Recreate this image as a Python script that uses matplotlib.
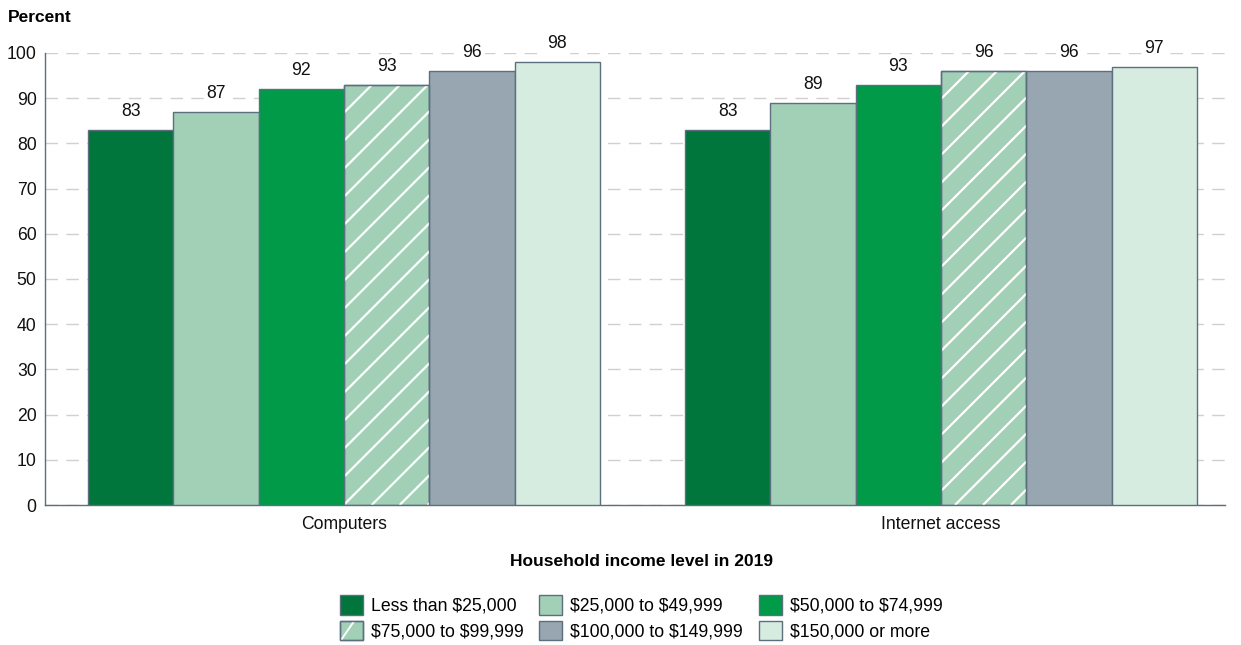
import numpy as np
import matplotlib
matplotlib.use("Agg")
import matplotlib.pyplot as plt
from matplotlib.patches import Patch, Rectangle
from matplotlib.legend_handler import HandlerPatch

plt.rcParams["font.family"] = ["Liberation Sans", "DejaVu Sans"]

# ---------------------------------------------------------------------------
# Data
# ---------------------------------------------------------------------------
categories = ["Computers", "Internet access"]
income_levels = [
    "Less than \\$25,000",
    "\\$25,000 to \\$49,999",
    "\\$50,000 to \\$74,999",
    "\\$75,000 to \\$99,999",
    "\\$100,000 to \\$149,999",
    "\\$150,000 or more",
]
computers = [83, 87, 92, 93, 96, 98]
internet = [83, 89, 93, 96, 96, 97]

colors = ["#00753c", "#a1d0b7", "#009a48", "#a1d0b7", "#97a6b0", "#d6ece0"]
hatched = [False, False, False, True, False, False]
EDGE = "#5b6f7e"
GRID = "#d0d0d0"
FS = 12.7

values = np.array([computers, internet])  # (category, income level)

fig = plt.figure(figsize=(12.41, 6.45), dpi=100)
ax = fig.add_axes([45 / 1241, 1 - 505 / 645, 1180 / 1241, 452 / 645])

n = len(income_levels)
width = 0.143
x = np.arange(len(categories))
ax.set_xlim(-0.501, 1.476)
ax.set_ylim(0, 100)

# pixel scale factors, used to keep hatch lines at 45 degrees
fig.canvas.draw()
bbox = ax.get_window_extent()
px_x = bbox.width / (1.476 + 0.501)
px_y = bbox.height / 100.0


def add_hatch(rect, spacing_px=28, lw=1.6):
    x0, y0 = rect.get_x(), rect.get_y()
    w, h = rect.get_width(), rect.get_height()
    w_px, h_px = w * px_x, h * px_y
    for s in np.arange(-h_px, w_px + spacing_px, spacing_px):
        xs = np.array([s, s + h_px])
        ys = np.array([0, h_px])
        line, = ax.plot(x0 + xs / px_x, y0 + ys / px_y, color="white",
                        lw=lw, zorder=3.5, solid_capstyle="butt")
        line.set_clip_path(rect)


for i in range(n):
    pos = x - (n - 1) / 2 * width + i * width
    bars = ax.bar(pos, values[:, i], width, color=colors[i],
                  edgecolor=EDGE, linewidth=1.0, zorder=3)
    for b, v in zip(bars, values[:, i]):
        if hatched[i]:
            add_hatch(b)
        ax.annotate(f"{v}", (b.get_x() + b.get_width() / 2, v),
                    xytext=(0, 7), textcoords="offset points",
                    ha="center", va="bottom", fontsize=FS, color="#111111",
                    zorder=5,
                    bbox=dict(boxstyle="square,pad=0.15", fc="white", ec="none"))
    # redraw outline on top of hatch lines
    if hatched[i]:
        ax.bar(pos, values[:, i], width, fill=False, edgecolor=EDGE,
               linewidth=1.0, zorder=4)

# axes styling
ax.set_yticks(np.arange(0, 101, 10))
ax.yaxis.grid(True, color=GRID, linestyle=(0, (9, 6)), linewidth=1.0, zorder=0)
ax.set_axisbelow(True)
ax.set_xticks(x)
ax.set_xticklabels(categories)
ax.tick_params(axis="both", length=0, labelsize=FS, colors="#111111")
ax.tick_params(axis="y", pad=6)
ax.tick_params(axis="x", pad=8)
for side in ["top", "right"]:
    ax.spines[side].set_visible(False)
for side in ["left", "bottom"]:
    ax.spines[side].set_color(EDGE)
    ax.spines[side].set_linewidth(1.0)

fig.text(8 / 1241, 1 - 18 / 645, "Percent", fontsize=12.5, fontweight="bold",
         ha="left", va="center")
fig.text(641 / 1241, 1 - 561 / 645, "Household income level in 2019",
         fontsize=12.5, fontweight="bold", ha="center", va="center")


# legend with a single white stripe on the hatched swatch
class HatchHandler(HandlerPatch):
    def create_artists(self, legend, orig_handle, xdescent, ydescent,
                       width, height, fontsize, trans):
        artists = super().create_artists(legend, orig_handle, xdescent,
                                         ydescent, width, height, fontsize, trans)
        if getattr(orig_handle, "_striped", False):
            p = artists[0]
            ln = plt.Line2D([-xdescent + width * 0.05, -xdescent + width * 0.6],
                            [-ydescent, -ydescent + height * 0.95],
                            color="white", lw=1.4, transform=trans)
            ln.set_clip_path(p)
            artists.append(ln)
            artists.append(Rectangle((-xdescent, -ydescent), width, height,
                                     fill=False, edgecolor=EDGE, lw=1.0,
                                     transform=trans))
        return artists


handles = []
for i in range(n):
    h = Patch(facecolor=colors[i], edgecolor=EDGE, linewidth=1.0)
    h._striped = hatched[i]
    handles.append(h)

# legend fills column by column, so reorder to read row by row
order = [0, 3, 1, 4, 2, 5]
leg = fig.legend([handles[k] for k in order], [income_levels[k] for k in order],
                 ncol=3, loc="center",
                 bbox_to_anchor=(641 / 1241, 1 - 618 / 645), frameon=False,
                 fontsize=FS, handlelength=1.3, handleheight=1.3,
                 handletextpad=0.45, columnspacing=0.9, labelspacing=0.35,
                 handler_map={Patch: HatchHandler()})

fig.savefig("out.png", dpi=100)
